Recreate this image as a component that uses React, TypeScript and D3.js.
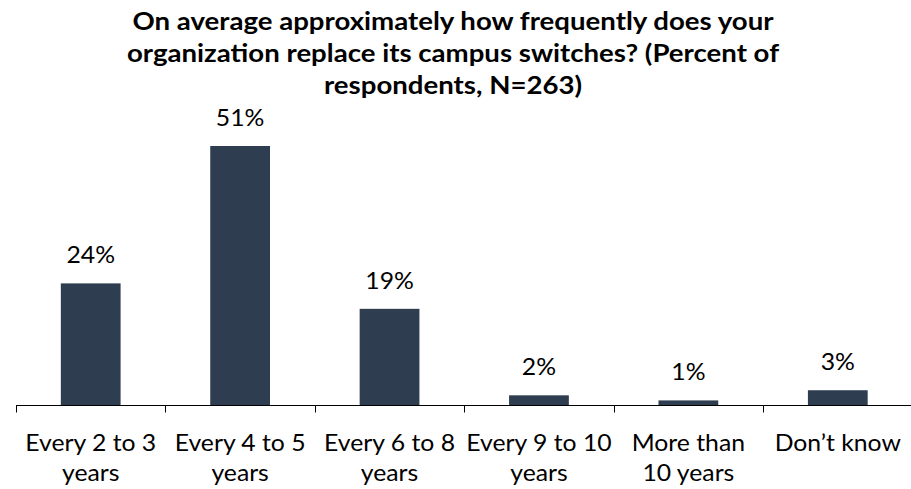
import React from "react";
import * as d3 from "d3";

const categories: string[][] = [
  ["Every 2 to 3", "years"],
  ["Every 4 to 5", "years"],
  ["Every 6 to 8", "years"],
  ["Every 9 to 10", "years"],
  ["More than", "10 years"],
  ["Don\u2019t know"],
];
const values: number[] = [24, 51, 19, 2, 1, 3];
const valueLabels: string[] = ["24%", "51%", "19%", "2%", "1%", "3%"];
const titleLines: string[] = [
  "On average approximately how frequently does your",
  "organization replace its campus switches? (Percent of",
  "respondents, N=263)",
];

const W = 911;
const H = 489;
const left = 16;
const right = 912.5;
const baseline = 405.5;
const FONT = "Lato, 'Open Sans', sans-serif";
const BAR = "#2E3D4F";
const SX = 1.1;

export default function App() {
  const keys = categories.map((_, i) => String(i));
  const x = d3.scaleBand<string>().domain(keys).range([left, right]).padding(0);
  const y = d3.scaleLinear().domain([0, 51]).range([baseline, 146]);
  const bw = x.bandwidth();
  const barW = bw * 0.4;
  const ticks = [...keys.map((k) => x(k) as number), right];

  return (
    <svg
      width={W}
      height={H}
      style={{ position: "absolute", left: 0, top: 0, background: "#fff" }}
      fontFamily={FONT}
    >
      {titleLines.map((t, i) => (
        <text
          key={i}
          transform={`translate(453,${30 + i * 32}) scale(1.15,1)`}
          textAnchor="middle"
          fontWeight="bold"
          fontSize={24}
          fill="#000"
        >
          {t}
        </text>
      ))}
      {values.map((v, i) => {
        const cx = (x(keys[i]) as number) + bw / 2;
        return (
          <g key={i}>
            <rect
              x={cx - barW / 2}
              y={y(v)}
              width={barW}
              height={baseline - y(v)}
              fill={BAR}
            />
            <text
              transform={`translate(${cx},${y(v) - 20}) scale(${SX},1)`}
              textAnchor="middle"
              fontSize={22.5}
              fill="#000"
            >
              {valueLabels[i]}
            </text>
          </g>
        );
      })}
      <line x1={left} x2={right} y1={baseline} y2={baseline} stroke="#000" strokeWidth={1} />
      {ticks.map((t, i) => (
        <line
          key={i}
          x1={Math.round(t) + 0.5}
          x2={Math.round(t) + 0.5}
          y1={baseline}
          y2={baseline + 7}
          stroke="#000"
          strokeWidth={1}
        />
      ))}
      {categories.map((lines, i) => {
        const cx = (x(keys[i]) as number) + bw / 2;
        return (
          <text
            key={i}
            transform={`translate(${cx},0) scale(${SX},1)`}
            textAnchor="middle"
            fontSize={22.5}
            fill="#000"
          >
            {lines.map((l, j) => (
              <tspan key={j} x={0} y={451 + j * 30}>
                {l}
              </tspan>
            ))}
          </text>
        );
      })}
    </svg>
  );
}
